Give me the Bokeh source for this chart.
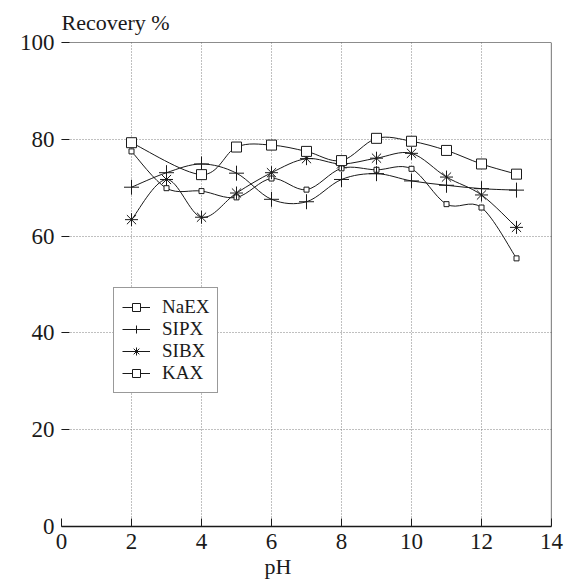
import numpy as np
from bokeh.plotting import figure
from bokeh.models import Range1d, Span, Legend, LegendItem, FixedTicker, ColumnDataSource, Title
from bokeh.embed import file_html
from bokeh.resources import INLINE

# ---- data ----
ph_main = [2, 3, 4, 5, 6, 7, 8, 9, 10, 11, 12, 13]
naex = [77.5, 69.9, 69.3, 68.0, 71.9, 69.6, 74.0, 73.7, 73.9, 66.6, 65.9, 55.4]
sipx = [70.1, 73.1, 74.9, 73.0, 67.6, 67.1, 71.7, 72.9, 71.4, 70.5, 69.8, 69.5]
sibx = [63.4, 71.7, 63.9, 68.9, 73.1, 76.0, 74.9, 76.1, 77.1, 72.2, 68.5, 61.8]
ph_kax = [2, 4, 5, 6, 7, 8, 9, 10, 11, 12, 13]
kax = [79.3, 72.7, 78.4, 78.8, 77.5, 75.6, 80.2, 79.6, 77.7, 74.9, 72.8]

x_ticks = [0, 2, 4, 6, 8, 10, 12, 14]
y_ticks = [0, 20, 40, 60, 80, 100]

FONT = "'Liberation Serif', 'Times New Roman', Times, serif"
INK = "#1a1a1a"


def smooth_source(xs, ys):
    """Catmull-Rom style Bezier control points through the data points."""
    x = np.asarray(xs, float)
    y = np.asarray(ys, float)
    xp = np.concatenate([[x[0]], x, [x[-1]]])
    yp = np.concatenate([[y[0]], y, [y[-1]]])
    return ColumnDataSource(dict(
        x0=x[:-1], y0=y[:-1], x1=x[1:], y1=y[1:],
        cx0=x[:-1] + (xp[2:-1] - xp[:-3]) / 6.0,
        cy0=y[:-1] + (yp[2:-1] - yp[:-3]) / 6.0,
        cx1=x[1:] - (xp[3:] - xp[1:-2]) / 6.0,
        cy1=y[1:] - (yp[3:] - yp[1:-2]) / 6.0,
    ))


p = figure(width=571, height=585, output_backend="svg", toolbar_location=None,
           x_range=Range1d(0, 14), y_range=Range1d(0, 100),
           min_border_left=61, min_border_right=20, min_border_top=42, min_border_bottom=59)
p.background_fill_color = "white"
p.border_fill_color = "white"
p.outline_line_color = None

# axes
p.xaxis.ticker = FixedTicker(ticks=x_ticks)
p.yaxis.ticker = FixedTicker(ticks=y_ticks)
for ax in (p.xaxis[0], p.yaxis[0]):
    ax.major_tick_in = 8
    ax.major_tick_out = 0
    ax.minor_tick_line_color = None
    ax.major_tick_line_color = INK
    ax.major_label_text_font = FONT
    ax.major_label_text_font_size = "23px"
    ax.major_label_text_color = INK
    ax.major_label_standoff = 7
p.xaxis.axis_line_color = INK
p.xaxis.axis_line_width = 1.3
p.yaxis.axis_line_color = None

# grids
p.xgrid.ticker = FixedTicker(ticks=x_ticks)
p.ygrid.ticker = FixedTicker(ticks=y_ticks)
for g in (p.xgrid[0], p.ygrid[0]):
    g.grid_line_color = "#808080"
    g.grid_line_dash = "1 2"
    g.grid_line_width = 1

# frame top and right
p.add_layout(Span(location=14, dimension="height", line_color=INK, line_width=1.2))
p.add_layout(Span(location=100, dimension="width", line_color=INK, line_width=1.2))

series = [
    ("NaEX", ph_main, naex, "square", 5),
    ("SIPX", ph_main, sipx, "cross", 15),
    ("SIBX", ph_main, sibx, "asterisk", 13),
    ("KAX", ph_kax, kax, "square", 10),
]

items = []
for name, xs, ys, marker, size in series:
    src = smooth_source(xs, ys)
    rl = p.bezier(x0="x0", y0="y0", x1="x1", y1="y1", cx0="cx0", cy0="cy0",
                  cx1="cx1", cy1="cy1", source=src, line_color=INK, line_width=1)
    rm = p.scatter(xs, ys, marker=marker, size=size, line_color=INK,
                   fill_color="white", line_width=1)
    items.append(LegendItem(label=name, renderers=[rl, rm]))

legend = Legend(items=items, location=(52, 133))
legend.border_line_color = "#333333"
legend.border_line_width = 1
legend.background_fill_color = "white"
legend.background_fill_alpha = 1
legend.label_text_font = FONT
legend.label_text_font_size = "19px"
legend.label_text_color = INK
legend.glyph_width = 28
legend.glyph_height = 20
legend.label_height = 20
legend.spacing = 0
legend.padding = 8
legend.margin = 0
legend.label_standoff = 12
p.add_layout(legend)

t_top = Title(text="Recovery %", align="left", text_font=FONT, text_font_size="22px",
              text_font_style="normal", text_color=INK, standoff=15)
p.add_layout(t_top, "above")
t_bot = Title(text="pH", align="left", offset=203, text_font=FONT, text_font_size="22px",
              text_font_style="normal", text_color=INK, standoff=0)
p.add_layout(t_bot, "below")

open("out.html", "w").write(file_html(p, INLINE))
